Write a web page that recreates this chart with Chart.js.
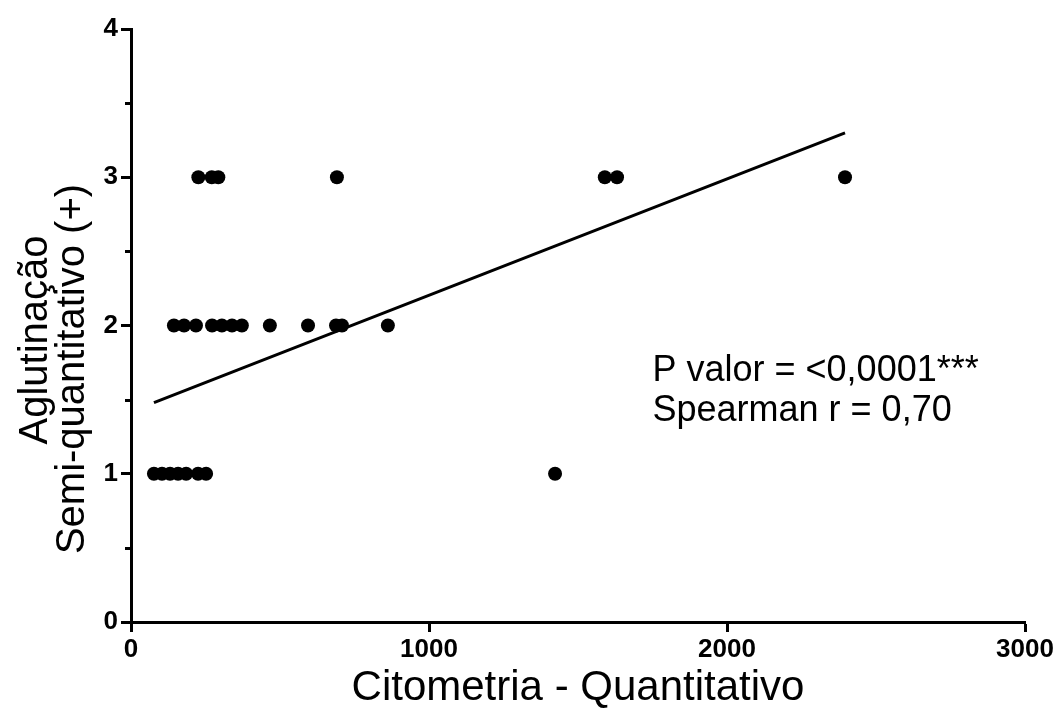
<!DOCTYPE html>
<html><head><meta charset="utf-8">
<script src="https://cdn.jsdelivr.net/npm/chart.js@4.4.0/dist/chart.umd.min.js"></script>
<style>html,body{margin:0;padding:0;background:#fff}#wrap{width:1059px;height:711px}</style>
</head><body><div id="wrap"><canvas id="c" width="1059" height="711"></canvas></div>
<script>
// Data
const level1X = [77, 104, 131, 158, 185, 225, 252, 1423];
const level2X = [144, 178, 218, 272, 305, 339, 372, 466, 594, 688, 708, 862];
const level3X = [226, 271, 293, 691, 1590, 1631, 2396];
const fitX = [77, 2396];
const fitY = [1.48, 3.30];
const xTicks = [0, 1000, 2000, 3000];
const yTicks = [0, 1, 2, 3, 4];
const xTitle = 'Citometria - Quantitativo';
const yTitle = ['Aglutinação', 'Semi-quantitativo (+)'];
const notes = ['P valor = <0,0001***', 'Spearman r = 0,70'];

const pts = [];
level1X.forEach(x => pts.push({x, y: 1}));
level2X.forEach(x => pts.push({x, y: 2}));
level3X.forEach(x => pts.push({x, y: 3}));
const fit = fitX.map((x, i) => ({x, y: fitY[i]}));

const FONT = '"Liberation Sans", Arial, sans-serif';

const deco = {
  id: 'deco',
  afterDraw(chart) {
    const ctx = chart.ctx, xs = chart.scales.x, ys = chart.scales.y, a = chart.chartArea;
    ctx.save();
    ctx.strokeStyle = '#000';
    ctx.lineWidth = 3;
    // minor y ticks
    for (let v = 0.5; v < 4; v += 1) {
      const py = Math.round(ys.getPixelForValue(v)) + 0.5;
      ctx.beginPath(); ctx.moveTo(a.left - 6, py); ctx.lineTo(a.left, py); ctx.stroke();
    }
    ctx.fillStyle = '#000';
    ctx.font = '42px ' + FONT;
    ctx.textAlign = 'center'; ctx.textBaseline = 'alphabetic';
    ctx.fillText(xTitle, 578, 700);
    ctx.font = '40px ' + FONT;
    ctx.save();
    ctx.rotate(-Math.PI / 2);
    ctx.fillText(yTitle[0], -340, 47);
    ctx.fillText(yTitle[1], -369, 84);
    ctx.restore();
    ctx.textAlign = 'left';
    ctx.font = '36px ' + FONT;
    const nx = xs.getPixelForValue(1750);
    ctx.fillText(notes[0], nx, 381);
    ctx.fillText(notes[1], nx, 421);
    ctx.restore();
  }
};

new Chart(document.getElementById('c'), {
  type: 'scatter',
  data: {
    datasets: [
      { data: pts, backgroundColor: '#000', borderColor: '#000', pointRadius: 7, pointHoverRadius: 7, borderWidth: 0 },
      { type: 'line', data: fit, borderColor: '#000', borderWidth: 3, pointRadius: 0, fill: false, showLine: true }
    ]
  },
  options: {
    responsive: false, animation: false,
    layout: { padding: { left: 0, right: 34, top: 29, bottom: 0 } },
    plugins: { legend: { display: false }, tooltip: { enabled: false } },
    scales: {
      x: {
        type: 'linear', min: 0, max: 3000,
        afterBuildTicks: s => { s.ticks = xTicks.map(v => ({value: v})); },
        afterFit: s => { s.height = 89; },
        ticks: { color: '#000', font: { family: FONT, size: 26, weight: 'bold' }, padding: 2, maxRotation: 0, autoSkip: false, callback: v => String(v) },
        grid: { display: true, drawOnChartArea: false, drawTicks: true, tickLength: 10, tickWidth: 3, tickColor: '#000' },
        border: { display: true, color: '#000', width: 3 }
      },
      y: {
        type: 'linear', min: 0, max: 4,
        afterBuildTicks: s => { s.ticks = yTicks.map(v => ({value: v})); },
        afterFit: s => { s.width = 131; },
        ticks: { color: '#000', font: { family: FONT, size: 26, weight: 'bold' }, padding: 3, autoSkip: false, callback: v => String(v) },
        grid: { display: true, drawOnChartArea: false, drawTicks: true, tickLength: 10, tickWidth: 3, tickColor: '#000' },
        border: { display: true, color: '#000', width: 3 }
      }
    }
  },
  plugins: [deco]
});
</script></body></html>
